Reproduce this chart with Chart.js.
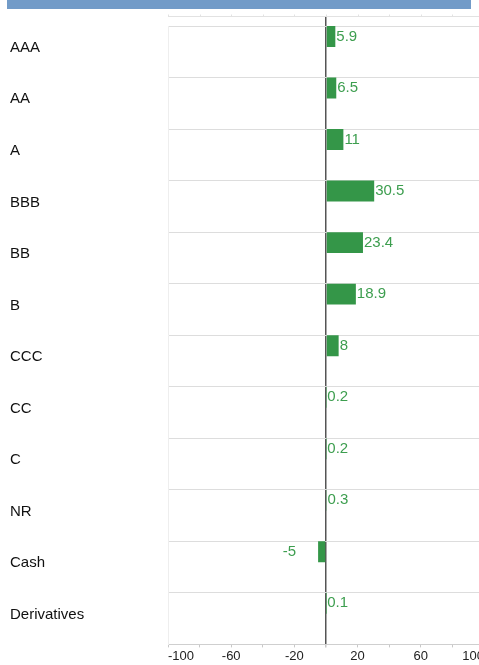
<!DOCTYPE html>
<html>
<head>
<meta charset="utf-8">
<script src="https://cdn.jsdelivr.net/npm/chart.js@4/dist/chart.umd.min.js"></script>
<style>
  html, body { margin: 0; padding: 0; background: #fff; overflow: hidden; }
  #wrap { position: absolute; left: 0; top: 0; width: 496px; height: 665px; }
  #band { position: absolute; left: 7px; top: 0; width: 464px; height: 9px; background: #729bc8; z-index: 2; }
</style>
</head>
<body>
<div id="band"></div>
<div id="wrap"><canvas id="ratingChart"></canvas></div>
<script>
const ratings = ['AAA', 'AA', 'A', 'BBB', 'BB', 'B', 'CCC', 'CC', 'C', 'NR', 'Cash', 'Derivatives'];
const weights = [5.9, 6.5, 11, 30.5, 23.4, 18.9, 8, 0.2, 0.2, 0.3, -5, 0.1];
const axisMin = -100;
const axisMax = 100;
const axisStep = 20;

const barGreen = '#349648';
const textGreen = '#3d9e4f';

// empty spacer series, keeps the bar in the top part of each row
const spacer = ratings.map(() => null);

const valueLabels = {
  id: 'valueLabels',
  afterDatasetsDraw(chart) {
    const ctx = chart.ctx;
    const meta = chart.getDatasetMeta(0);
    ctx.save();
    ctx.font = '15px "Liberation Sans", Arial, sans-serif';
    ctx.fillStyle = textGreen;
    ctx.textBaseline = 'middle';
    meta.data.forEach((bar, i) => {
      const v = weights[i];
      if (v < 0) {
        ctx.textAlign = 'right';
        ctx.fillText(String(v), bar.x - 22, bar.y);
      } else {
        ctx.textAlign = 'left';
        ctx.fillText(String(v), bar.x + 1, bar.y);
      }
    });
    ctx.restore();
  }
};

const topRule = {
  id: 'topRule',
  afterDraw(chart) {
    const {ctx, chartArea: {left, right, top}} = chart;
    const xs = chart.scales.x;
    const y = top - 10 + 0.5;
    ctx.save();
    ctx.strokeStyle = '#e2e2e2';
    ctx.lineWidth = 1;
    ctx.beginPath();
    ctx.moveTo(left, y);
    ctx.lineTo(right, y);
    for (let v = axisMin; v <= axisMax; v += axisStep) {
      const x = Math.round(xs.getPixelForValue(v)) + 0.5;
      ctx.moveTo(x, y);
      ctx.lineTo(x, y - 2);
    }
    ctx.stroke();
    ctx.restore();
  }
};

new Chart(document.getElementById('ratingChart'), {
  type: 'bar',
  data: {
    labels: ratings,
    datasets: [
      { data: weights, backgroundColor: barGreen, borderWidth: 0 },
      { data: spacer, backgroundColor: 'transparent' },
      { data: spacer, backgroundColor: 'transparent' }
    ]
  },
  options: {
    indexAxis: 'y',
    responsive: true,
    maintainAspectRatio: false,
    animation: false,
    categoryPercentage: 0.89,
    barPercentage: 1.37,
    layout: { padding: { left: 10, top: 16, right: 12, bottom: 0 } },
    plugins: {
      legend: { display: false },
      tooltip: { enabled: false }
    },
    scales: {
      x: {
        position: 'bottom',
        min: axisMin,
        max: axisMax,
        grid: {
          color: (c) => (c.tick && c.tick.value === 0 ? '#555' : 'transparent'),
          lineWidth: (c) => (c.tick && c.tick.value === 0 ? 1.5 : 1),
          tickColor: '#c8c8c8',
          tickLength: 3
        },
        border: { color: '#cfcfcf' },
        ticks: {
          stepSize: axisStep,
          autoSkip: false,
          maxRotation: 0,
          align: 'inner',
          padding: 1,
          color: '#222',
          font: { size: 13, family: '"Liberation Sans", Arial, sans-serif' },
          callback: (v) => ((v - axisMin) % 40 === 0 ? v : '')
        }
      },
      x2: {
        position: 'top',
        min: axisMin,
        max: axisMax,
        grid: {
          drawOnChartArea: false,
          tickLength: 10,
          color: (c) => (c.tick && c.tick.value === 0 ? '#555' : 'transparent'),
          tickColor: (c) => (c.tick && c.tick.value === 0 ? '#555' : 'transparent'),
          lineWidth: 1.5
        },
        border: { display: false },
        ticks: { display: false, stepSize: axisStep }
      },
      y: {
        grid: { color: '#dddddd', drawTicks: false },
        border: { color: '#eeeeee' },
        afterFit: (scale) => { scale.width = 158; },
        ticks: {
          crossAlign: 'far',
          labelOffset: -4,
          padding: 0,
          color: '#111',
          font: { size: 15, family: '"Liberation Sans", Arial, sans-serif' }
        }
      }
    }
  },
  plugins: [valueLabels, topRule]
});
</script>
</body>
</html>
